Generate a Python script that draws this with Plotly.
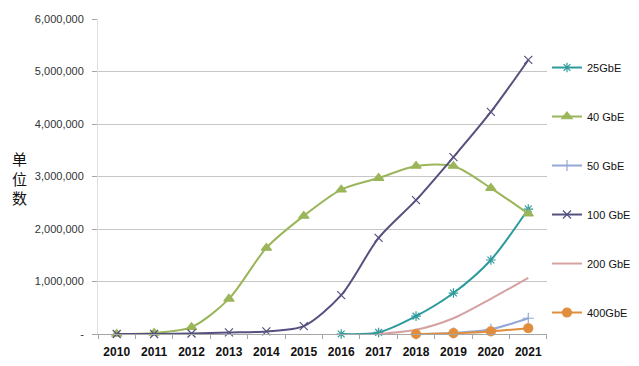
import plotly.graph_objects as go

years = [str(y) for y in range(2010, 2022)]

s25_years = ["2016", "2017", "2018", "2019", "2020", "2021"]
s25 = [0, 30000, 340000, 780000, 1410000, 2380000]

s40_years = years
s40 = [0, 20000, 130000, 670000, 1640000, 2250000, 2750000, 2970000, 3200000, 3200000, 2780000, 2290000]

s50_years = ["2018", "2019", "2020", "2021"]
s50 = [0, 20000, 90000, 300000]

s100_years = years
s100 = [0, 0, 10000, 30000, 50000, 150000, 740000, 1830000, 2550000, 3370000, 4230000, 5220000]

s200_years = ["2017", "2018", "2019", "2020", "2021"]
s200 = [0, 80000, 300000, 670000, 1070000]

s400_years = ["2018", "2019", "2020", "2021"]
s400 = [0, 15000, 50000, 110000]

ytick_vals = [0, 1000000, 2000000, 3000000, 4000000, 5000000, 6000000]
ytick_text = ["-", "1,000,000", "2,000,000", "3,000,000", "4,000,000", "5,000,000", "6,000,000"]

series = [
    ("25GbE", s25_years, s25, "#2F9A9C", "asterisk-open", 8),
    ("40 GbE", s40_years, s40, "#9BB55A", "triangle-up", 9),
    ("50 GbE", s50_years, s50, "#94A8D6", "cross-thin-open", 8),
    ("100 GbE", s100_years, s100, "#55517F", "x-thin-open", 8),
    ("200 GbE", s200_years, s200, "#D6A1A1", None, 0),
    ("400GbE", s400_years, s400, "#E08E3E", "circle", 9),
]

fig = go.Figure()
for i, (name, xs, ys, color, sym, size) in enumerate(series):
    mode = "lines+markers" if sym else "lines"
    marker = dict(color=color, size=size, symbol=sym, line=dict(color=color, width=1.2)) if sym else None
    fig.add_trace(go.Scatter(
        x=xs, y=ys, name=name, mode=mode,
        line=dict(color=color, width=2, shape="spline", smoothing=0.8),
        marker=marker, legendgroup=f"g{i}", cliponaxis=False,
    ))

fig.update_layout(
    width=639, height=366,
    margin=dict(l=98, r=0, t=19, b=32),
    paper_bgcolor="white", plot_bgcolor="white",
    font=dict(family="Liberation Sans, Arial, sans-serif", size=11, color="#222222"),
    showlegend=True,
    legend=dict(
        xref="container", yref="paper",
        x=0.856, y=0.892, xanchor="left", yanchor="top",
        tracegroupgap=30, itemwidth=30,
        font=dict(size=11, color="#111111"),
        bgcolor="rgba(0,0,0,0)",
    ),
    xaxis=dict(
        type="category", categoryorder="array", categoryarray=years,
        range=[-0.5, 11.5], tickangle=0, automargin=False,
        showgrid=False, showline=True, linecolor="#A6A6A6", linewidth=1,
        ticks="outside", tickson="boundaries", ticklen=4, tickcolor="#A6A6A6",
        ticklabelstandoff=7,
        tickfont=dict(size=12, color="#111111",
                      family="Liberation Sans, Arial, sans-serif",
                      weight="bold"),
        zeroline=False,
    ),
    yaxis=dict(
        range=[0, 6000000],
        tickvals=ytick_vals, ticktext=ytick_text,
        showgrid=True, gridcolor="#C6C6C6", gridwidth=1,
        showline=True, linecolor="#E0E0E0", linewidth=1,
        ticks="outside", ticklen=5, tickcolor="#A6A6A6",
        ticklabelstandoff=6,
        tickfont=dict(size=11, color="#333333"),
        zeroline=False,
    ),
    annotations=[dict(
        text="单<br>位<br>数", xref="paper", yref="paper",
        x=-0.174, y=0.495, xanchor="center", yanchor="middle",
        showarrow=False, font=dict(size=15, color="#111111", family="Noto Sans CJK SC"),
    )],
)

fig.write_html("out.html", post_script="document.body.style.margin='0px';",
               config={"displayModeBar": False})
